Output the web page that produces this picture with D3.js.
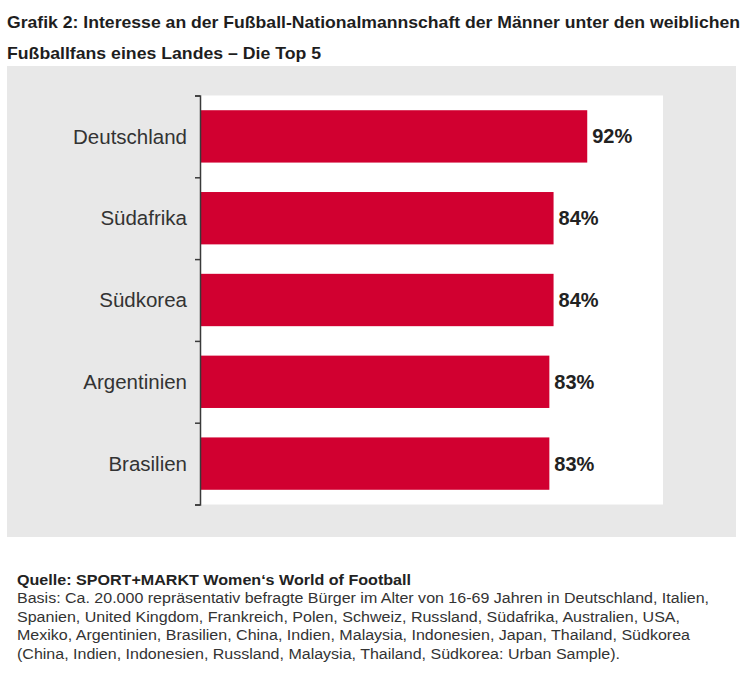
<!DOCTYPE html>
<html>
<head>
<meta charset="utf-8">
<script src="https://cdn.jsdelivr.net/npm/d3@7"></script>
<style>
  html, body { margin: 0; padding: 0; background: #ffffff; }
  svg { display: block; }
  text { font-family: "Liberation Sans", Arial, sans-serif; }
</style>
</head>
<body>
<svg id="chart" width="750" height="685"></svg>
<script>
// ---- data ----
const categories = ["Deutschland", "Südafrika", "Südkorea", "Argentinien", "Brasilien"];
const values = [92, 84, 84, 83, 83];
const valueSuffix = "%";
const titleLines = [
  "Grafik 2: Interesse an der Fußball-Nationalmannschaft der Männer unter den weiblichen",
  "Fußballfans eines Landes – Die Top 5"
];
const sourceLine = "Quelle: SPORT+MARKT Women‘s World of Football";
const noteLines = [
  "Basis: Ca. 20.000 repräsentativ befragte Bürger im Alter von 16-69 Jahren in Deutschland, Italien,",
  "Spanien, United Kingdom, Frankreich, Polen, Schweiz, Russland, Südafrika, Australien, USA,",
  "Mexiko, Argentinien, Brasilien, China, Indien, Malaysia, Indonesien, Japan, Thailand, Südkorea",
  "(China, Indien, Indonesien, Russland, Malaysia, Thailand, Südkorea: Urban Sample)."
];

// ---- layout ----
const svg = d3.select("#chart");
const panel = {x: 7, y: 66, w: 729, h: 471};
const plot = {left: 200, right: 663, top: 95.5, bottom: 504.5};

// title
const titleWidths = [733, 314];
svg.selectAll("text.title").data(titleLines).join("text")
  .attr("class", "title")
  .attr("x", 7)
  .attr("y", (d, i) => 27.5 + i * 31.5)
  .attr("font-size", 16.5)
  .attr("font-weight", "bold")
  .attr("fill", "#1e1e1e")
  .attr("textLength", (d, i) => titleWidths[i])
  .attr("lengthAdjust", "spacingAndGlyphs")
  .text(d => d);

// gray panel
svg.append("rect")
  .attr("x", panel.x).attr("y", panel.y)
  .attr("width", panel.w).attr("height", panel.h)
  .attr("fill", "#e8e8e8");

// white plot area
svg.append("rect")
  .attr("x", plot.left).attr("y", plot.top)
  .attr("width", plot.right - plot.left).attr("height", plot.bottom - plot.top)
  .attr("fill", "#ffffff");

// scales
const x = d3.scaleLinear().domain([0, 110]).range([plot.left, plot.right]);
const y = d3.scaleBand().domain(categories).range([plot.top, plot.bottom])
  .paddingInner(0.36).paddingOuter(0.18);

// bars
svg.selectAll("rect.bar").data(values).join("rect")
  .attr("class", "bar")
  .attr("x", x(0))
  .attr("y", (d, i) => y(categories[i]))
  .attr("width", d => x(d) - x(0))
  .attr("height", y.bandwidth())
  .attr("fill", "#d10030");

// axis (ticks at band boundaries)
const bScale = d3.scaleLinear().domain([0, categories.length]).range([plot.top, plot.bottom]);
const axis = d3.axisLeft(bScale).tickValues(d3.range(categories.length + 1))
  .tickSize(5).tickSizeOuter(5).tickFormat("");
const ag = svg.append("g").attr("transform", `translate(${plot.left},0)`).call(axis);
ag.selectAll("path, line").attr("stroke", "#3a3a3a").attr("stroke-width", 1.5);

// category labels
svg.selectAll("text.cat").data(categories).join("text")
  .attr("class", "cat")
  .attr("x", 187)
  .attr("y", d => y(d) + y.bandwidth() / 2)
  .attr("dy", "0.35em")
  .attr("text-anchor", "end")
  .attr("font-size", 20.5)
  .attr("fill", "#333333")
  .text(d => d);

// value labels
svg.selectAll("text.val").data(values).join("text")
  .attr("class", "val")
  .attr("x", d => x(d) + 5)
  .attr("y", (d, i) => y(categories[i]) + y.bandwidth() / 2)
  .attr("dy", "0.35em")
  .attr("font-size", 20)
  .attr("font-weight", "bold")
  .attr("fill", "#222222")
  .text(d => d + valueSuffix);

// footnote
svg.append("text")
  .attr("x", 17).attr("y", 584.5)
  .attr("font-size", 14).attr("font-weight", "bold").attr("fill", "#222222")
  .attr("textLength", 394).attr("lengthAdjust", "spacingAndGlyphs")
  .text(sourceLine);
const noteWidths = [692, 663, 673, 603];
svg.selectAll("text.note").data(noteLines).join("text")
  .attr("class", "note")
  .attr("x", 17)
  .attr("y", (d, i) => 603 + i * 18.5)
  .attr("font-size", 14)
  .attr("fill", "#333333")
  .attr("textLength", (d, i) => noteWidths[i])
  .attr("lengthAdjust", "spacingAndGlyphs")
  .text(d => d);
</script>
</body>
</html>
